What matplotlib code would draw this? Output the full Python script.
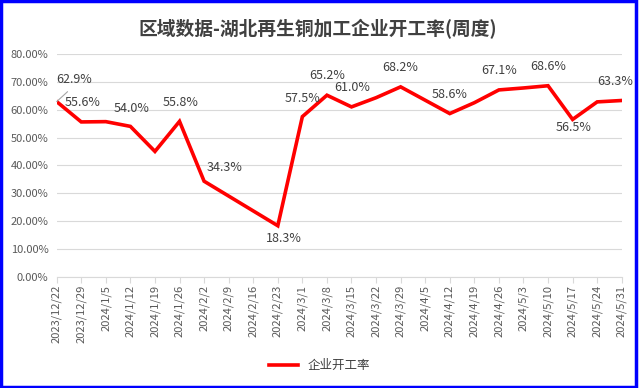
# 湖北再生铜加工企业开工率(周度) 折线图
import matplotlib.pyplot as plt
from matplotlib.patches import Rectangle

plt.rcParams['font.family'] = ['Noto Sans CJK SC', 'DejaVu Sans']

fechas = ["2023/12/22", "2023/12/29", "2024/1/5", "2024/1/12", "2024/1/19",
          "2024/1/26", "2024/2/2", "2024/2/9", "2024/2/16", "2024/2/23",
          "2024/3/1", "2024/3/8", "2024/3/15", "2024/3/22", "2024/3/29",
          "2024/4/5", "2024/4/12", "2024/4/19", "2024/4/26", "2024/5/3",
          "2024/5/10", "2024/5/17", "2024/5/24", "2024/5/31"]
# None = 当周无数据 (线段直接连过去)
tasa = [62.9, 55.6, 55.7, 54.0, 45.0, 55.8, 34.3, None, None, 18.3,
        57.5, 65.2, 61.0, 64.3, 68.2, 63.4, 58.6, 62.5, 67.1, 67.8,
        68.6, 56.5, 62.8, 63.3]
# 有数据标签的点
con_etiqueta = [0, 1, 3, 5, 6, 9, 10, 11, 12, 14, 16, 18, 20, 21, 23]
y_ticks = [0, 10, 20, 30, 40, 50, 60, 70, 80]

# 标签偏移(像素)
offsets = {0: (17, 22), 1: (1, 19), 3: (1, 18), 5: (1, 19), 6: (20, 14),
           9: (6, -13), 10: (0, 18), 11: (0, 20), 12: (1, 19), 14: (0, 19),
           16: (0, 19), 18: (0, 19), 20: (0, 19), 21: (1, -8), 23: (-7, 19)}

xs = [i for i, v in enumerate(tasa) if v is not None]
ys = [v for v in tasa if v is not None]

fig = plt.figure(figsize=(6.39, 3.88), dpi=100)
ax = fig.add_axes([0.0887, 0.2869, 0.8843, 0.5739])

ax.plot(xs, ys, color="#FF0000", lw=2.6, label="企业开工率", solid_joinstyle="miter")

for i in con_etiqueta:
    dx, dy = offsets[i]
    if i == 0:
        ax.annotate(f"{tasa[i]:.1f}%", xy=(i, tasa[i]), xytext=(dx, dy),
                    textcoords="offset pixels", ha="center", va="center",
                    fontsize=9, color="#404040",
                    arrowprops=dict(arrowstyle="-", color="#A6A6A6", lw=0.8,
                                    shrinkA=3, shrinkB=0, relpos=(0.5, 0)))
    else:
        ax.annotate(f"{tasa[i]:.1f}%", xy=(i, tasa[i]), xytext=(dx, dy),
                    textcoords="offset pixels", ha="center", va="center",
                    fontsize=9, color="#404040")

ax.set_xlim(0, len(fechas) - 1)
ax.set_ylim(0, 80)
ax.set_xticks(range(len(fechas)))
ax.set_xticklabels(fechas, rotation=90, fontsize=8, color="#595959")
ax.set_yticks(y_ticks)
ax.set_yticklabels([f"{t:.2f}%" for t in y_ticks], fontsize=8, color="#595959")
ax.tick_params(axis="y", length=0, pad=6)
ax.tick_params(axis="x", length=4, color="#D9D9D9", pad=2)

ax.grid(axis="y", color="#D9D9D9", lw=0.8)
ax.set_axisbelow(True)
for s in ["top", "right", "left"]:
    ax.spines[s].set_visible(False)
ax.spines["bottom"].set_color("#D9D9D9")

fig.text(0.497, 0.926, "区域数据-湖北再生铜加工企业开工率(周度)", ha="center", va="center",
         fontsize=13.5, fontweight="bold", color="#404040")

fig.legend(loc="center", bbox_to_anchor=(0.5, 0.0575), frameon=False, fontsize=9,
           handlelength=2.3, labelcolor="#404040")

# 蓝色外框
fig.patches.append(Rectangle((0.002, 0.003), 0.994, 0.994, transform=fig.transFigure,
                             fill=False, edgecolor="#0000FF", lw=2.5))

fig.savefig("out.png", dpi=100)
